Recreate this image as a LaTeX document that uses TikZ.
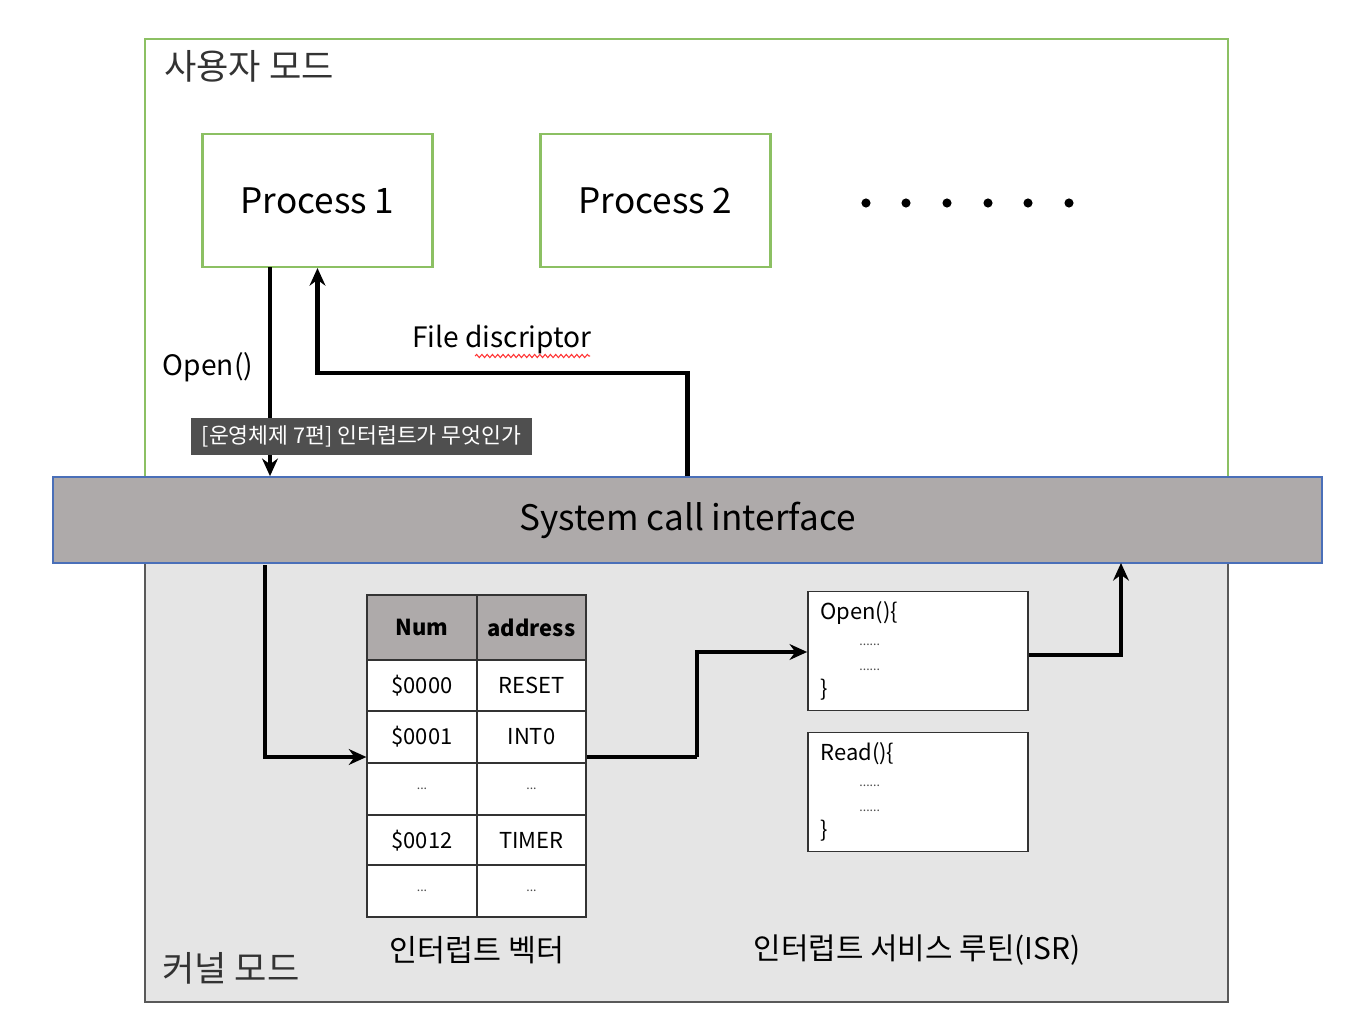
\documentclass[tikz,border=0pt]{standalone}
\usepackage{fontspec}
\setmainfont{Noto Sans CJK KR}
\usetikzlibrary{positioning,decorations.pathmorphing,arrows.meta}

\definecolor{modegreen}{HTML}{8CC063}
\definecolor{kernelgray}{HTML}{E5E5E5}
\definecolor{bargray}{HTML}{AEAAAA}
\definecolor{barblue}{HTML}{4A6FB8}
\definecolor{tipgray}{HTML}{4F4F4F}

\tikzstyle{modebox} = [draw, inner sep=0pt]
\tikzstyle{procbox} = [draw=modegreen, line width=1.2pt, inner sep=0pt, minimum width=4.6cm, minimum height=2.66cm, font=\fontsize{20}{24}\selectfont]
\tikzstyle{cell} = [draw=black!80, line width=1pt, inner sep=0pt, minimum width=2.19cm, minimum height=1.03cm, fill=white, font=\fontsize{12.5}{15}\selectfont]
\tikzstyle{isrbox} = [draw=black!80, line width=1pt, fill=white, inner sep=0pt, minimum width=4.4cm, minimum height=2.38cm]
\tikzstyle{isrtext} = [anchor=north west, align=left, inner sep=0pt, font=\fontsize{12.5}{13.5}\selectfont]
\tikzstyle{label} = [font=\fontsize{16}{19}\selectfont]
\tikzstyle{arrowdecorate} = [-{Stealth[length=10pt,width=9pt]}, line width=2.4pt]

\newcommand{\celldots}{{\scriptsize\textcolor{black!70}{...}}}
\newcommand{\codedots}{{\scriptsize\textcolor{black!70}{......}}}

\begin{document}
\begin{tikzpicture}[x=0.02cm, y=-0.02cm]
  \useasboundingbox (0,0) rectangle (1360,1024);

  % mode areas
  \node[modebox, draw=modegreen, line width=1.2pt, minimum width=21.66cm, minimum height=8.76cm] (usermode) at (686.5,258) {};
  \node[modebox, draw=black!65, line width=1.2pt, fill=kernelgray, minimum width=21.66cm, minimum height=8.78cm] (kernelmode) at (686.5,782.5) {};
  \node[anchor=west, font=\fontsize{20}{24}\selectfont, text=black!80] (userlabel) at (158,66) {사용자 모드};
  \node[anchor=west, font=\fontsize{20}{24}\selectfont, text=black!80] (kernellabel) at (156,968) {커널 모드};

  % processes
  \node[procbox] (p1) at (317.5,200.5) {Process 1};
  \node[procbox] (p2) at (655.5,200.5) {Process 2};
  \foreach \x in {866,906,947,988,1028,1069}
    \fill (\x,203) circle[radius=2.6pt];

  % system call bar
  \node[draw=barblue, line width=1pt, fill=bargray, inner sep=0pt, minimum width=25.38cm, minimum height=1.72cm, font=\fontsize{20}{24}\selectfont] (syscall) at (687.5,520) {System call interface};

  % user side arrows
  \coordinate (opentop) at (270,267);
  \draw[arrowdecorate] (opentop) -- (opentop |- syscall.north);
  \node[label] (openlabel) at (208,367) {Open()};
  \draw[arrowdecorate] (syscall.north) -- (687.5,373) -| (p1.south);
  \node[label] (fdlabel) at (502,340) {File discriptor};
  \draw[red!80, line width=0.6pt, decorate, decoration={snake, amplitude=0.9pt, segment length=3pt}] (475,356) -- (590,356);

  % tooltip
  \node[fill=tipgray, text=white, inner sep=0pt, minimum width=6.82cm, minimum height=0.74cm, font=\fontsize{12.3}{14}\selectfont] (tip) at (361.5,436.5) {[운영체제 7편] 인터럽트가 무엇인가};

  % interrupt vector table
  \node[cell, fill=bargray, minimum height=1.3cm, font=\bfseries\fontsize{12.5}{15}\selectfont] (hnum) at (422,627.5) {Num};
  \node[cell, fill=bargray, minimum height=1.3cm, font=\bfseries\fontsize{12.5}{15}\selectfont] (haddr) at (531.5,627.5) {address};
  \foreach \row/\y/\num/\addr in {1/685.5/\$0000/RESET, 2/737/\$0001/INT0, 3/789/\celldots/\celldots, 4/840.5/\$0012/TIMER, 5/891/\celldots/\celldots}
  {
    \node[cell] (num\row) at (422,\y) {\num};
    \node[cell] (addr\row) at (531.5,\y) {\addr};
  };
  \node[label, font=\fontsize{17.3}{20}\selectfont] (veclabel) at (477,950) {인터럽트 벡터};

  % service routines
  \node[isrbox] (isropen) at (918,651) {};
  \node[isrtext] at ([xshift=0.26cm, yshift=-0.22cm]isropen.north west) {Open()\{\\[1pt] \hspace*{0.78cm}\codedots\\[1pt] \hspace*{0.78cm}\codedots\\[1pt] \}};
  \node[isrbox] (isrread) at (918,792) {};
  \node[isrtext] at ([xshift=0.26cm, yshift=-0.22cm]isrread.north west) {Read()\{\\[1pt] \hspace*{0.78cm}\codedots\\[1pt] \hspace*{0.78cm}\codedots\\[1pt] \}};
  \node[label, font=\fontsize{17}{20}\selectfont] (isrlabel) at (917,950) {인터럽트 서비스 루틴(ISR)};

  % kernel side arrows
  \coordinate (kerneltop) at (265,565);
  \coordinate (vecin) at (num2.west |- 0,757);
  \coordinate (vecout) at (addr2.east |- 0,757);
  \coordinate (isrin) at (isropen.west |- 0,652);
  \coordinate (isrout) at (isropen.east |- 0,655);
  \coordinate (backup) at (1121,563);
  \draw[arrowdecorate] (kerneltop) |- (vecin);
  \draw[line width=2.4pt] (vecout) -- (697,757);
  \draw[arrowdecorate] (697,757) |- (isrin);
  \draw[arrowdecorate] (isrout) -| (backup);
\end{tikzpicture}
\end{document}
